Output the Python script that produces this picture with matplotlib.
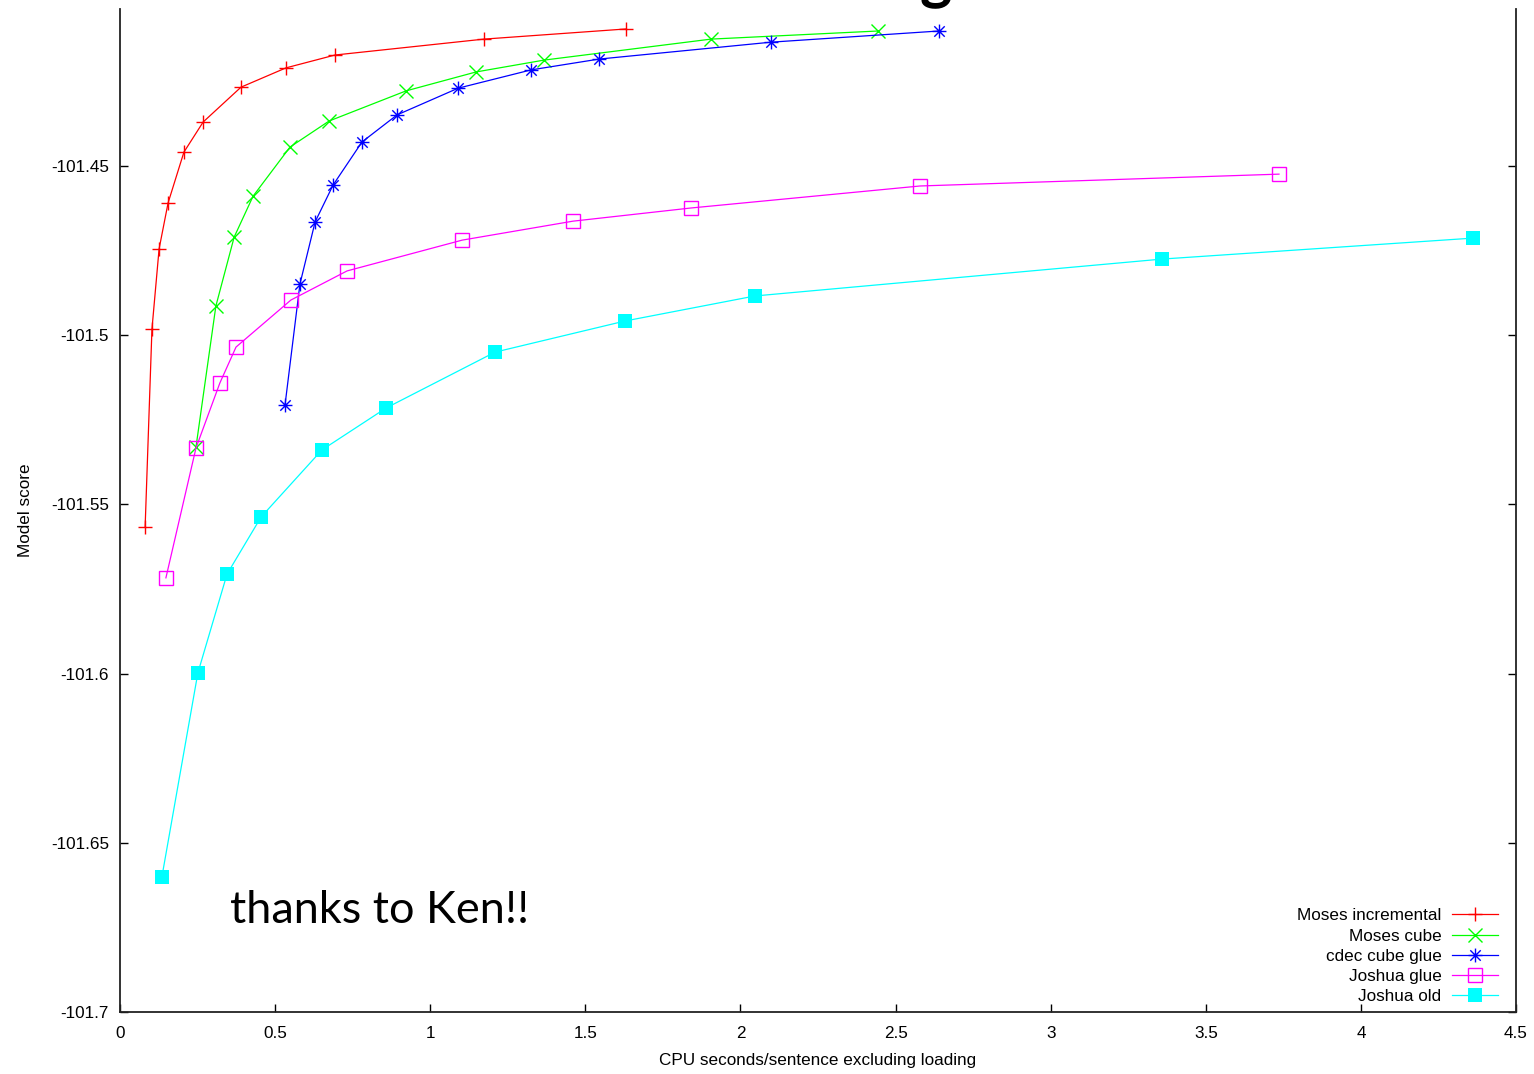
import numpy as np
import matplotlib
matplotlib.use("Agg")
import matplotlib.pyplot as plt
import matplotlib.ticker as mticker
from matplotlib.path import Path

plt.rcParams["font.family"] = ["Liberation Sans", "DejaVu Sans"]

# CPU seconds/sentence (x) and model score (y) per decoder
moses_inc_x = [0.081, 0.103, 0.126, 0.155, 0.206, 0.268, 0.390, 0.535, 0.693, 1.173, 1.631]
moses_inc_y = [-101.5567, -101.4982, -101.4745, -101.4609, -101.4459, -101.4370,
               -101.4267, -101.4210, -101.4172, -101.4125, -101.4095]

moses_cube_x = [0.245, 0.309, 0.368, 0.429, 0.548, 0.674, 0.922, 1.148, 1.367, 1.905, 2.444]
moses_cube_y = [-101.5330, -101.4914, -101.4710, -101.4589, -101.4444, -101.4367,
                -101.4278, -101.4222, -101.4187, -101.4125, -101.4101]

cdec_x = [0.532, 0.580, 0.629, 0.687, 0.780, 0.893, 1.090, 1.325, 1.544, 2.099, 2.640]
cdec_y = [-101.5206, -101.4849, -101.4665, -101.4556, -101.4429, -101.4349,
          -101.4270, -101.4216, -101.4184, -101.4134, -101.4101]

joshua_glue_x = [0.148, 0.245, 0.322, 0.374, 0.551, 0.732, 1.103, 1.460, 1.841, 2.579, 3.736]
joshua_glue_y = [-101.5717, -101.5333, -101.5141, -101.5035, -101.4896, -101.4810,
                 -101.4719, -101.4663, -101.4624, -101.4559, -101.4524]

joshua_old_x = [0.135, 0.251, 0.345, 0.455, 0.651, 0.858, 1.209, 1.628, 2.047, 3.359, 4.362]
joshua_old_y = [-101.6601, -101.5998, -101.5706, -101.5537, -101.5339, -101.5215,
                -101.5050, -101.4958, -101.4884, -101.4775, -101.4713]

# gnuplot style asterisk: + and x on top of each other
d = 0.75
star = Path(
    [(-1, 0), (1, 0), (0, -1), (0, 1), (-d, -d), (d, d), (-d, d), (d, -d)],
    [Path.MOVETO, Path.LINETO] * 4,
)

fig = plt.figure(figsize=(15.34, 10.74), dpi=100)
ax = fig.add_axes([120 / 1534, 62 / 1074, 1396 / 1534, 1003 / 1074])

lw = 0.9
ax.plot(moses_inc_x, moses_inc_y, color="#ff0000", lw=lw, marker="+", ms=10, mew=1,
        label="Moses incremental")
ax.plot(moses_cube_x, moses_cube_y, color="#00ff00", lw=lw, marker="x", ms=10, mew=1,
        label="Moses cube")
ax.plot(cdec_x, cdec_y, color="#0000ff", lw=lw, marker=star, ms=10, mew=1,
        label="cdec cube glue")
ax.plot(joshua_glue_x, joshua_glue_y, color="#ff00ff", lw=lw, marker="s", ms=9.5, mew=1,
        mfc="none", label="Joshua glue")
ax.plot(joshua_old_x, joshua_old_y, color="#00ffff", lw=lw, marker="s", ms=9.5, mew=0,
        label="Joshua old")

ax.set_xlim(0, 4.5)
ax.set_ylim(-101.7, -101.4036)
ax.xaxis.set_major_locator(mticker.MultipleLocator(0.5))
ax.yaxis.set_major_locator(mticker.MultipleLocator(0.05))
ax.xaxis.set_major_formatter(mticker.FuncFormatter(lambda v, p: f"{v:g}"))
ax.yaxis.set_major_formatter(mticker.FuncFormatter(lambda v, p: f"{v:g}"))
ax.tick_params(direction="in", length=6, width=1, labelsize=12.3, right=True, top=False)
ax.tick_params(axis="y", pad=8)
ax.tick_params(axis="x", pad=10)
for side in ["left", "right", "bottom"]:
    ax.spines[side].set_linewidth(1.3)
    ax.spines[side].set_color("#222222")
ax.spines["top"].set_visible(False)

ax.set_xlabel("CPU seconds/sentence excluding loading", fontsize=12.3, labelpad=9)
ax.set_ylabel("Model score", fontsize=12.3, labelpad=13)

ax.legend(loc="lower right", bbox_to_anchor=(0.987, 0.008), frameon=False,
          markerfirst=False, handlelength=2.7, handletextpad=0.6, labelspacing=0.3,
          borderpad=0, borderaxespad=0, fontsize=12.3)

fig.text(230 / 1534, 151 / 1074, "thanks to Ken!!", fontsize=32.5, family=["Lato", "DejaVu Sans"],
         va="baseline", ha="left")
# bottom of a slide title glyph cut off at the top edge
fig.text(936 / 1534, 1 + 4 / 1074, "g", fontsize=44, family=["Lato", "DejaVu Sans"],
         weight="bold", va="baseline", ha="center")

fig.savefig("out.png", dpi=100)
